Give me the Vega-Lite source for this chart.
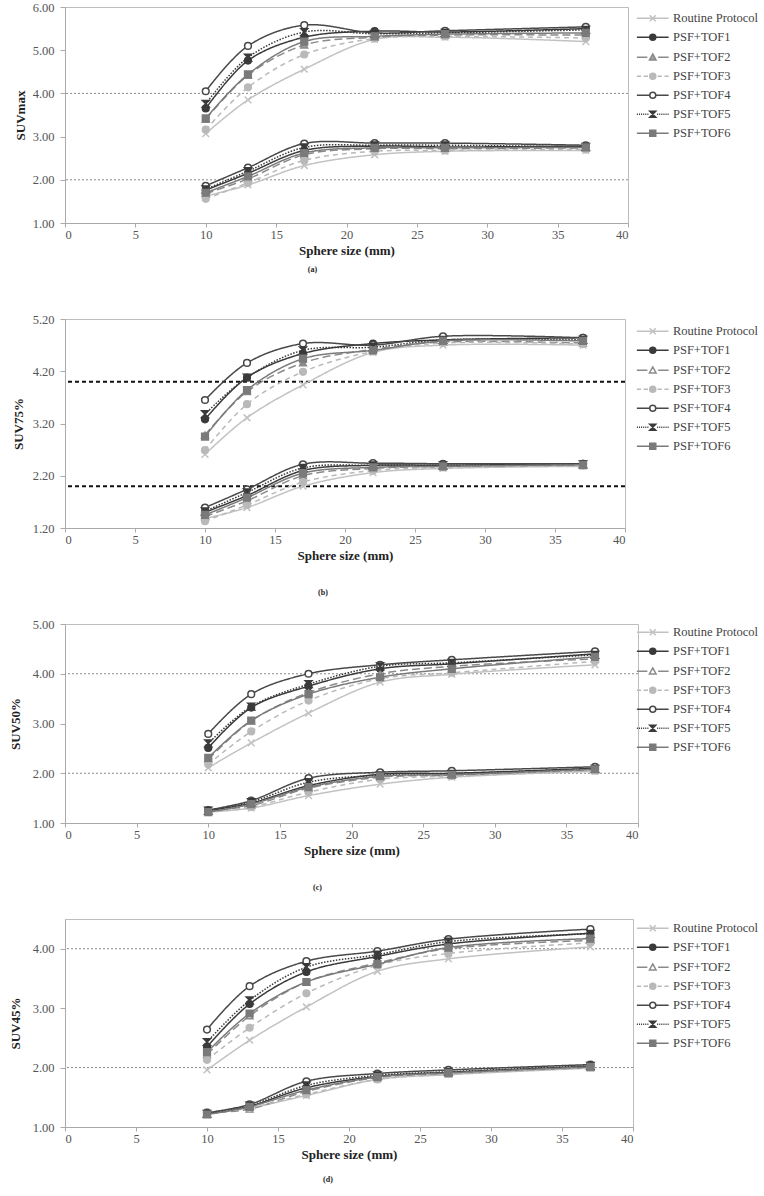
{
"$schema": "https://vega.github.io/schema/vega-lite/v6.json",
"padding": {"left": 9, "top": 0, "right": 0, "bottom": 0},
"background": "white",
"config": {
 "font": "Liberation Serif",
 "view": {"stroke": "#bdbdbd", "strokeWidth": 1},
 "axis": {"grid": false, "labelFont": "Liberation Serif", "labelFontSize": 12.5, "labelColor": "#555", "titleFont": "Liberation Serif", "titleFontSize": 13, "titleFontWeight": "bold", "titleColor": "#222", "domainColor": "#aaa", "tickColor": "#aaa", "tickSize": 5},
 "axisX": {"labelPadding": 1, "titlePadding": 4, "tickSize": 4},
 "axisY": {"labelPadding": 6},
 "legend": {"labelFont": "Liberation Serif", "labelFontSize": 12.5, "labelColor": "#444", "title": null, "orient": "none", "legendX": 581.5, "padding": 0, "symbolSize": 36, "symbolStrokeWidth": 1.5, "labelOffset": 14, "rowPadding": 6},
 "title": {"font": "Liberation Serif"}
},
"resolve": {"scale": {"color": "independent", "strokeDash": "independent", "shape": "independent", "fill": "independent", "stroke": "independent", "size": "independent"}, "legend": {"color": "independent", "shape": "independent", "fill": "independent", "stroke": "independent"}},
"datasets": {
 "a": [
  {"s":"Routine Protocol","g":"h","x":10,"y":3.07},{"s":"Routine Protocol","g":"h","x":13,"y":3.85},{"s":"Routine Protocol","g":"h","x":17,"y":4.56},{"s":"Routine Protocol","g":"h","x":22,"y":5.25},{"s":"Routine Protocol","g":"h","x":27,"y":5.30},{"s":"Routine Protocol","g":"h","x":37,"y":5.20},
  {"s":"Routine Protocol","g":"l","x":10,"y":1.62},{"s":"Routine Protocol","g":"l","x":13,"y":1.88},{"s":"Routine Protocol","g":"l","x":17,"y":2.33},{"s":"Routine Protocol","g":"l","x":22,"y":2.58},{"s":"Routine Protocol","g":"l","x":27,"y":2.66},{"s":"Routine Protocol","g":"l","x":37,"y":2.68},
  {"s":"PSF+TOF1","g":"h","x":10,"y":3.65},{"s":"PSF+TOF1","g":"h","x":13,"y":4.76},{"s":"PSF+TOF1","g":"h","x":17,"y":5.30},{"s":"PSF+TOF1","g":"h","x":22,"y":5.44},{"s":"PSF+TOF1","g":"h","x":27,"y":5.42},{"s":"PSF+TOF1","g":"h","x":37,"y":5.50},
  {"s":"PSF+TOF1","g":"l","x":10,"y":1.76},{"s":"PSF+TOF1","g":"l","x":13,"y":2.15},{"s":"PSF+TOF1","g":"l","x":17,"y":2.68},{"s":"PSF+TOF1","g":"l","x":22,"y":2.78},{"s":"PSF+TOF1","g":"l","x":27,"y":2.76},{"s":"PSF+TOF1","g":"l","x":37,"y":2.78},
  {"s":"PSF+TOF2","g":"h","x":10,"y":3.40},{"s":"PSF+TOF2","g":"h","x":13,"y":4.42},{"s":"PSF+TOF2","g":"h","x":17,"y":5.12},{"s":"PSF+TOF2","g":"h","x":22,"y":5.30},{"s":"PSF+TOF2","g":"h","x":27,"y":5.35},{"s":"PSF+TOF2","g":"h","x":37,"y":5.35},
  {"s":"PSF+TOF2","g":"l","x":10,"y":1.68},{"s":"PSF+TOF2","g":"l","x":13,"y":2.02},{"s":"PSF+TOF2","g":"l","x":17,"y":2.58},{"s":"PSF+TOF2","g":"l","x":22,"y":2.72},{"s":"PSF+TOF2","g":"l","x":27,"y":2.72},{"s":"PSF+TOF2","g":"l","x":37,"y":2.74},
  {"s":"PSF+TOF3","g":"h","x":10,"y":3.16},{"s":"PSF+TOF3","g":"h","x":13,"y":4.14},{"s":"PSF+TOF3","g":"h","x":17,"y":4.90},{"s":"PSF+TOF3","g":"h","x":22,"y":5.27},{"s":"PSF+TOF3","g":"h","x":27,"y":5.32},{"s":"PSF+TOF3","g":"h","x":37,"y":5.28},
  {"s":"PSF+TOF3","g":"l","x":10,"y":1.56},{"s":"PSF+TOF3","g":"l","x":13,"y":1.93},{"s":"PSF+TOF3","g":"l","x":17,"y":2.45},{"s":"PSF+TOF3","g":"l","x":22,"y":2.66},{"s":"PSF+TOF3","g":"l","x":27,"y":2.68},{"s":"PSF+TOF3","g":"l","x":37,"y":2.70},
  {"s":"PSF+TOF4","g":"h","x":10,"y":4.05},{"s":"PSF+TOF4","g":"h","x":13,"y":5.10},{"s":"PSF+TOF4","g":"h","x":17,"y":5.58},{"s":"PSF+TOF4","g":"h","x":22,"y":5.40},{"s":"PSF+TOF4","g":"h","x":27,"y":5.45},{"s":"PSF+TOF4","g":"h","x":37,"y":5.54},
  {"s":"PSF+TOF4","g":"l","x":10,"y":1.86},{"s":"PSF+TOF4","g":"l","x":13,"y":2.28},{"s":"PSF+TOF4","g":"l","x":17,"y":2.84},{"s":"PSF+TOF4","g":"l","x":22,"y":2.85},{"s":"PSF+TOF4","g":"l","x":27,"y":2.85},{"s":"PSF+TOF4","g":"l","x":37,"y":2.80},
  {"s":"PSF+TOF5","g":"h","x":10,"y":3.76},{"s":"PSF+TOF5","g":"h","x":13,"y":4.83},{"s":"PSF+TOF5","g":"h","x":17,"y":5.42},{"s":"PSF+TOF5","g":"h","x":22,"y":5.38},{"s":"PSF+TOF5","g":"h","x":27,"y":5.40},{"s":"PSF+TOF5","g":"h","x":37,"y":5.47},
  {"s":"PSF+TOF5","g":"l","x":10,"y":1.78},{"s":"PSF+TOF5","g":"l","x":13,"y":2.20},{"s":"PSF+TOF5","g":"l","x":17,"y":2.75},{"s":"PSF+TOF5","g":"l","x":22,"y":2.80},{"s":"PSF+TOF5","g":"l","x":27,"y":2.80},{"s":"PSF+TOF5","g":"l","x":37,"y":2.76},
  {"s":"PSF+TOF6","g":"h","x":10,"y":3.42},{"s":"PSF+TOF6","g":"h","x":13,"y":4.44},{"s":"PSF+TOF6","g":"h","x":17,"y":5.20},{"s":"PSF+TOF6","g":"h","x":22,"y":5.32},{"s":"PSF+TOF6","g":"h","x":27,"y":5.37},{"s":"PSF+TOF6","g":"h","x":37,"y":5.40},
  {"s":"PSF+TOF6","g":"l","x":10,"y":1.70},{"s":"PSF+TOF6","g":"l","x":13,"y":2.08},{"s":"PSF+TOF6","g":"l","x":17,"y":2.62},{"s":"PSF+TOF6","g":"l","x":22,"y":2.74},{"s":"PSF+TOF6","g":"l","x":27,"y":2.74},{"s":"PSF+TOF6","g":"l","x":37,"y":2.75}
 ],
 "b": [
  {"s":"Routine Protocol","g":"h","x":10,"y":2.61},{"s":"Routine Protocol","g":"h","x":13,"y":3.31},{"s":"Routine Protocol","g":"h","x":17,"y":3.94},{"s":"Routine Protocol","g":"h","x":22,"y":4.56},{"s":"Routine Protocol","g":"h","x":27,"y":4.70},{"s":"Routine Protocol","g":"h","x":37,"y":4.70},
  {"s":"Routine Protocol","g":"l","x":10,"y":1.38},{"s":"Routine Protocol","g":"l","x":13,"y":1.59},{"s":"Routine Protocol","g":"l","x":17,"y":2.00},{"s":"Routine Protocol","g":"l","x":22,"y":2.26},{"s":"Routine Protocol","g":"l","x":27,"y":2.34},{"s":"Routine Protocol","g":"l","x":37,"y":2.38},
  {"s":"PSF+TOF1","g":"h","x":10,"y":3.28},{"s":"PSF+TOF1","g":"h","x":13,"y":4.08},{"s":"PSF+TOF1","g":"h","x":17,"y":4.54},{"s":"PSF+TOF1","g":"h","x":22,"y":4.73},{"s":"PSF+TOF1","g":"h","x":27,"y":4.80},{"s":"PSF+TOF1","g":"h","x":37,"y":4.84},
  {"s":"PSF+TOF1","g":"l","x":10,"y":1.50},{"s":"PSF+TOF1","g":"l","x":13,"y":1.82},{"s":"PSF+TOF1","g":"l","x":17,"y":2.30},{"s":"PSF+TOF1","g":"l","x":22,"y":2.40},{"s":"PSF+TOF1","g":"l","x":27,"y":2.40},{"s":"PSF+TOF1","g":"l","x":37,"y":2.43},
  {"s":"PSF+TOF2","g":"h","x":10,"y":2.98},{"s":"PSF+TOF2","g":"h","x":13,"y":3.81},{"s":"PSF+TOF2","g":"h","x":17,"y":4.36},{"s":"PSF+TOF2","g":"h","x":22,"y":4.62},{"s":"PSF+TOF2","g":"h","x":27,"y":4.76},{"s":"PSF+TOF2","g":"h","x":37,"y":4.74},
  {"s":"PSF+TOF2","g":"l","x":10,"y":1.42},{"s":"PSF+TOF2","g":"l","x":13,"y":1.72},{"s":"PSF+TOF2","g":"l","x":17,"y":2.20},{"s":"PSF+TOF2","g":"l","x":22,"y":2.34},{"s":"PSF+TOF2","g":"l","x":27,"y":2.38},{"s":"PSF+TOF2","g":"l","x":37,"y":2.40},
  {"s":"PSF+TOF3","g":"h","x":10,"y":2.69},{"s":"PSF+TOF3","g":"h","x":13,"y":3.57},{"s":"PSF+TOF3","g":"h","x":17,"y":4.19},{"s":"PSF+TOF3","g":"h","x":22,"y":4.58},{"s":"PSF+TOF3","g":"h","x":27,"y":4.74},{"s":"PSF+TOF3","g":"h","x":37,"y":4.72},
  {"s":"PSF+TOF3","g":"l","x":10,"y":1.33},{"s":"PSF+TOF3","g":"l","x":13,"y":1.64},{"s":"PSF+TOF3","g":"l","x":17,"y":2.08},{"s":"PSF+TOF3","g":"l","x":22,"y":2.30},{"s":"PSF+TOF3","g":"l","x":27,"y":2.36},{"s":"PSF+TOF3","g":"l","x":37,"y":2.39},
  {"s":"PSF+TOF4","g":"h","x":10,"y":3.65},{"s":"PSF+TOF4","g":"h","x":13,"y":4.36},{"s":"PSF+TOF4","g":"h","x":17,"y":4.73},{"s":"PSF+TOF4","g":"h","x":22,"y":4.70},{"s":"PSF+TOF4","g":"h","x":27,"y":4.87},{"s":"PSF+TOF4","g":"h","x":37,"y":4.84},
  {"s":"PSF+TOF4","g":"l","x":10,"y":1.59},{"s":"PSF+TOF4","g":"l","x":13,"y":1.94},{"s":"PSF+TOF4","g":"l","x":17,"y":2.42},{"s":"PSF+TOF4","g":"l","x":22,"y":2.44},{"s":"PSF+TOF4","g":"l","x":27,"y":2.43},{"s":"PSF+TOF4","g":"l","x":37,"y":2.43},
  {"s":"PSF+TOF5","g":"h","x":10,"y":3.38},{"s":"PSF+TOF5","g":"h","x":13,"y":4.08},{"s":"PSF+TOF5","g":"h","x":17,"y":4.60},{"s":"PSF+TOF5","g":"h","x":22,"y":4.66},{"s":"PSF+TOF5","g":"h","x":27,"y":4.80},{"s":"PSF+TOF5","g":"h","x":37,"y":4.80},
  {"s":"PSF+TOF5","g":"l","x":10,"y":1.52},{"s":"PSF+TOF5","g":"l","x":13,"y":1.88},{"s":"PSF+TOF5","g":"l","x":17,"y":2.35},{"s":"PSF+TOF5","g":"l","x":22,"y":2.40},{"s":"PSF+TOF5","g":"l","x":27,"y":2.40},{"s":"PSF+TOF5","g":"l","x":37,"y":2.42},
  {"s":"PSF+TOF6","g":"h","x":10,"y":2.95},{"s":"PSF+TOF6","g":"h","x":13,"y":3.84},{"s":"PSF+TOF6","g":"h","x":17,"y":4.44},{"s":"PSF+TOF6","g":"h","x":22,"y":4.60},{"s":"PSF+TOF6","g":"h","x":27,"y":4.78},{"s":"PSF+TOF6","g":"h","x":37,"y":4.78},
  {"s":"PSF+TOF6","g":"l","x":10,"y":1.45},{"s":"PSF+TOF6","g":"l","x":13,"y":1.78},{"s":"PSF+TOF6","g":"l","x":17,"y":2.25},{"s":"PSF+TOF6","g":"l","x":22,"y":2.36},{"s":"PSF+TOF6","g":"l","x":27,"y":2.38},{"s":"PSF+TOF6","g":"l","x":37,"y":2.41}
 ],
 "c": [
  {"s":"Routine Protocol","g":"h","x":10,"y":2.11},{"s":"Routine Protocol","g":"h","x":13,"y":2.61},{"s":"Routine Protocol","g":"h","x":17,"y":3.21},{"s":"Routine Protocol","g":"h","x":22,"y":3.83},{"s":"Routine Protocol","g":"h","x":27,"y":3.99},{"s":"Routine Protocol","g":"h","x":37,"y":4.18},
  {"s":"Routine Protocol","g":"l","x":10,"y":1.22},{"s":"Routine Protocol","g":"l","x":13,"y":1.30},{"s":"Routine Protocol","g":"l","x":17,"y":1.55},{"s":"Routine Protocol","g":"l","x":22,"y":1.78},{"s":"Routine Protocol","g":"l","x":27,"y":1.92},{"s":"Routine Protocol","g":"l","x":37,"y":2.04},
  {"s":"PSF+TOF1","g":"h","x":10,"y":2.51},{"s":"PSF+TOF1","g":"h","x":13,"y":3.32},{"s":"PSF+TOF1","g":"h","x":17,"y":3.75},{"s":"PSF+TOF1","g":"h","x":22,"y":4.10},{"s":"PSF+TOF1","g":"h","x":27,"y":4.20},{"s":"PSF+TOF1","g":"h","x":37,"y":4.40},
  {"s":"PSF+TOF1","g":"l","x":10,"y":1.25},{"s":"PSF+TOF1","g":"l","x":13,"y":1.40},{"s":"PSF+TOF1","g":"l","x":17,"y":1.75},{"s":"PSF+TOF1","g":"l","x":22,"y":1.98},{"s":"PSF+TOF1","g":"l","x":27,"y":2.00},{"s":"PSF+TOF1","g":"l","x":37,"y":2.10},
  {"s":"PSF+TOF2","g":"h","x":10,"y":2.28},{"s":"PSF+TOF2","g":"h","x":13,"y":3.05},{"s":"PSF+TOF2","g":"h","x":17,"y":3.62},{"s":"PSF+TOF2","g":"h","x":22,"y":4.00},{"s":"PSF+TOF2","g":"h","x":27,"y":4.15},{"s":"PSF+TOF2","g":"h","x":37,"y":4.30},
  {"s":"PSF+TOF2","g":"l","x":10,"y":1.24},{"s":"PSF+TOF2","g":"l","x":13,"y":1.35},{"s":"PSF+TOF2","g":"l","x":17,"y":1.70},{"s":"PSF+TOF2","g":"l","x":22,"y":1.92},{"s":"PSF+TOF2","g":"l","x":27,"y":1.96},{"s":"PSF+TOF2","g":"l","x":37,"y":2.07},
  {"s":"PSF+TOF3","g":"h","x":10,"y":2.18},{"s":"PSF+TOF3","g":"h","x":13,"y":2.84},{"s":"PSF+TOF3","g":"h","x":17,"y":3.46},{"s":"PSF+TOF3","g":"h","x":22,"y":3.90},{"s":"PSF+TOF3","g":"h","x":27,"y":4.02},{"s":"PSF+TOF3","g":"h","x":37,"y":4.25},
  {"s":"PSF+TOF3","g":"l","x":10,"y":1.22},{"s":"PSF+TOF3","g":"l","x":13,"y":1.32},{"s":"PSF+TOF3","g":"l","x":17,"y":1.62},{"s":"PSF+TOF3","g":"l","x":22,"y":1.88},{"s":"PSF+TOF3","g":"l","x":27,"y":1.94},{"s":"PSF+TOF3","g":"l","x":37,"y":2.05},
  {"s":"PSF+TOF4","g":"h","x":10,"y":2.79},{"s":"PSF+TOF4","g":"h","x":13,"y":3.59},{"s":"PSF+TOF4","g":"h","x":17,"y":4.00},{"s":"PSF+TOF4","g":"h","x":22,"y":4.18},{"s":"PSF+TOF4","g":"h","x":27,"y":4.28},{"s":"PSF+TOF4","g":"h","x":37,"y":4.45},
  {"s":"PSF+TOF4","g":"l","x":10,"y":1.26},{"s":"PSF+TOF4","g":"l","x":13,"y":1.45},{"s":"PSF+TOF4","g":"l","x":17,"y":1.90},{"s":"PSF+TOF4","g":"l","x":22,"y":2.02},{"s":"PSF+TOF4","g":"l","x":27,"y":2.05},{"s":"PSF+TOF4","g":"l","x":37,"y":2.13},
  {"s":"PSF+TOF5","g":"h","x":10,"y":2.60},{"s":"PSF+TOF5","g":"h","x":13,"y":3.34},{"s":"PSF+TOF5","g":"h","x":17,"y":3.79},{"s":"PSF+TOF5","g":"h","x":22,"y":4.15},{"s":"PSF+TOF5","g":"h","x":27,"y":4.22},{"s":"PSF+TOF5","g":"h","x":37,"y":4.38},
  {"s":"PSF+TOF5","g":"l","x":10,"y":1.25},{"s":"PSF+TOF5","g":"l","x":13,"y":1.42},{"s":"PSF+TOF5","g":"l","x":17,"y":1.82},{"s":"PSF+TOF5","g":"l","x":22,"y":1.96},{"s":"PSF+TOF5","g":"l","x":27,"y":1.99},{"s":"PSF+TOF5","g":"l","x":37,"y":2.09},
  {"s":"PSF+TOF6","g":"h","x":10,"y":2.31},{"s":"PSF+TOF6","g":"h","x":13,"y":3.06},{"s":"PSF+TOF6","g":"h","x":17,"y":3.59},{"s":"PSF+TOF6","g":"h","x":22,"y":3.93},{"s":"PSF+TOF6","g":"h","x":27,"y":4.10},{"s":"PSF+TOF6","g":"h","x":37,"y":4.34},
  {"s":"PSF+TOF6","g":"l","x":10,"y":1.22},{"s":"PSF+TOF6","g":"l","x":13,"y":1.38},{"s":"PSF+TOF6","g":"l","x":17,"y":1.72},{"s":"PSF+TOF6","g":"l","x":22,"y":1.94},{"s":"PSF+TOF6","g":"l","x":27,"y":1.97},{"s":"PSF+TOF6","g":"l","x":37,"y":2.08}
 ],
 "d": [
  {"s":"Routine Protocol","g":"h","x":10,"y":1.96},{"s":"Routine Protocol","g":"h","x":13,"y":2.46},{"s":"Routine Protocol","g":"h","x":17,"y":3.02},{"s":"Routine Protocol","g":"h","x":22,"y":3.62},{"s":"Routine Protocol","g":"h","x":27,"y":3.83},{"s":"Routine Protocol","g":"h","x":37,"y":4.03},
  {"s":"Routine Protocol","g":"l","x":10,"y":1.22},{"s":"Routine Protocol","g":"l","x":13,"y":1.32},{"s":"Routine Protocol","g":"l","x":17,"y":1.53},{"s":"Routine Protocol","g":"l","x":22,"y":1.80},{"s":"Routine Protocol","g":"l","x":27,"y":1.88},{"s":"Routine Protocol","g":"l","x":37,"y":1.99},
  {"s":"PSF+TOF1","g":"h","x":10,"y":2.35},{"s":"PSF+TOF1","g":"h","x":13,"y":3.07},{"s":"PSF+TOF1","g":"h","x":17,"y":3.61},{"s":"PSF+TOF1","g":"h","x":22,"y":3.87},{"s":"PSF+TOF1","g":"h","x":27,"y":4.08},{"s":"PSF+TOF1","g":"h","x":37,"y":4.26},
  {"s":"PSF+TOF1","g":"l","x":10,"y":1.22},{"s":"PSF+TOF1","g":"l","x":13,"y":1.35},{"s":"PSF+TOF1","g":"l","x":17,"y":1.66},{"s":"PSF+TOF1","g":"l","x":22,"y":1.85},{"s":"PSF+TOF1","g":"l","x":27,"y":1.92},{"s":"PSF+TOF1","g":"l","x":37,"y":2.02},
  {"s":"PSF+TOF2","g":"h","x":10,"y":2.22},{"s":"PSF+TOF2","g":"h","x":13,"y":2.87},{"s":"PSF+TOF2","g":"h","x":17,"y":3.44},{"s":"PSF+TOF2","g":"h","x":22,"y":3.76},{"s":"PSF+TOF2","g":"h","x":27,"y":4.00},{"s":"PSF+TOF2","g":"h","x":37,"y":4.14},
  {"s":"PSF+TOF2","g":"l","x":10,"y":1.24},{"s":"PSF+TOF2","g":"l","x":13,"y":1.30},{"s":"PSF+TOF2","g":"l","x":17,"y":1.60},{"s":"PSF+TOF2","g":"l","x":22,"y":1.83},{"s":"PSF+TOF2","g":"l","x":27,"y":1.90},{"s":"PSF+TOF2","g":"l","x":37,"y":2.00},
  {"s":"PSF+TOF3","g":"h","x":10,"y":2.13},{"s":"PSF+TOF3","g":"h","x":13,"y":2.67},{"s":"PSF+TOF3","g":"h","x":17,"y":3.25},{"s":"PSF+TOF3","g":"h","x":22,"y":3.72},{"s":"PSF+TOF3","g":"h","x":27,"y":3.92},{"s":"PSF+TOF3","g":"h","x":37,"y":4.10},
  {"s":"PSF+TOF3","g":"l","x":10,"y":1.25},{"s":"PSF+TOF3","g":"l","x":13,"y":1.32},{"s":"PSF+TOF3","g":"l","x":17,"y":1.55},{"s":"PSF+TOF3","g":"l","x":22,"y":1.80},{"s":"PSF+TOF3","g":"l","x":27,"y":1.89},{"s":"PSF+TOF3","g":"l","x":37,"y":2.00},
  {"s":"PSF+TOF4","g":"h","x":10,"y":2.64},{"s":"PSF+TOF4","g":"h","x":13,"y":3.37},{"s":"PSF+TOF4","g":"h","x":17,"y":3.79},{"s":"PSF+TOF4","g":"h","x":22,"y":3.96},{"s":"PSF+TOF4","g":"h","x":27,"y":4.16},{"s":"PSF+TOF4","g":"h","x":37,"y":4.33},
  {"s":"PSF+TOF4","g":"l","x":10,"y":1.24},{"s":"PSF+TOF4","g":"l","x":13,"y":1.38},{"s":"PSF+TOF4","g":"l","x":17,"y":1.77},{"s":"PSF+TOF4","g":"l","x":22,"y":1.90},{"s":"PSF+TOF4","g":"l","x":27,"y":1.96},{"s":"PSF+TOF4","g":"l","x":37,"y":2.05},
  {"s":"PSF+TOF5","g":"h","x":10,"y":2.43},{"s":"PSF+TOF5","g":"h","x":13,"y":3.13},{"s":"PSF+TOF5","g":"h","x":17,"y":3.69},{"s":"PSF+TOF5","g":"h","x":22,"y":3.90},{"s":"PSF+TOF5","g":"h","x":27,"y":4.12},{"s":"PSF+TOF5","g":"h","x":37,"y":4.25},
  {"s":"PSF+TOF5","g":"l","x":10,"y":1.22},{"s":"PSF+TOF5","g":"l","x":13,"y":1.36},{"s":"PSF+TOF5","g":"l","x":17,"y":1.70},{"s":"PSF+TOF5","g":"l","x":22,"y":1.87},{"s":"PSF+TOF5","g":"l","x":27,"y":1.93},{"s":"PSF+TOF5","g":"l","x":37,"y":2.03},
  {"s":"PSF+TOF6","g":"h","x":10,"y":2.26},{"s":"PSF+TOF6","g":"h","x":13,"y":2.91},{"s":"PSF+TOF6","g":"h","x":17,"y":3.44},{"s":"PSF+TOF6","g":"h","x":22,"y":3.74},{"s":"PSF+TOF6","g":"h","x":27,"y":4.02},{"s":"PSF+TOF6","g":"h","x":37,"y":4.17},
  {"s":"PSF+TOF6","g":"l","x":10,"y":1.21},{"s":"PSF+TOF6","g":"l","x":13,"y":1.34},{"s":"PSF+TOF6","g":"l","x":17,"y":1.62},{"s":"PSF+TOF6","g":"l","x":22,"y":1.84},{"s":"PSF+TOF6","g":"l","x":27,"y":1.91},{"s":"PSF+TOF6","g":"l","x":37,"y":2.01}
 ]
},
"bounds": "flush",
"spacing": 96,
"vconcat": [
 {
  "width": 563, "height": 216,
  "title": {"text": "(a)", "orient": "bottom", "anchor": "middle", "frame": "group", "dx": -34, "offset": 8, "fontSize": 8, "fontWeight": "bold", "font": "Liberation Serif", "color": "#222"},
  "resolve": {"scale": {"shape": "independent", "fill": "independent", "stroke": "independent"}, "legend": {"shape": "independent", "fill": "independent", "stroke": "independent"}},
  "layer": [
   {"data": {"values": [{"y": 4}, {"y": 2}]}, "mark": {"type": "rule", "color": "#8a8a8a", "strokeWidth": 1, "strokeDash": [2, 2]},
    "encoding": {"y": {"field": "y", "type": "quantitative", "title": "SUVmax", "scale": {"domain": [1, 6], "nice": false, "zero": false}}}},
   {"data": {"name": "a"}, "mark": {"type": "line", "interpolate": "catmull-rom", "strokeWidth": 1.5},
    "encoding": {
     "x": {"field": "x", "type": "quantitative", "scale": {"domain": [0, 40], "nice": false}, "axis": {"values": [0,5,10,15,20,25,30,35,40], "title": "Sphere size (mm)"}},
     "y": {"field": "y", "type": "quantitative", "scale": {"domain": [1, 6], "nice": false, "zero": false}, "axis": {"values": [1,1.5,2,2.5,3,3.5,4,4.5,5,5.5,6], "format": ".2f", "title": "SUVmax", "titlePadding": 4.5}},
     "detail": {"field": "g"},
     "color": {"field": "s", "type": "nominal", "scale": {"domain": ["Routine Protocol","PSF+TOF1","PSF+TOF2","PSF+TOF3","PSF+TOF4","PSF+TOF5","PSF+TOF6"], "range": ["#c2c2c2","#3a3a3a","#8a8a8a","#b9b9b9","#484848","#3a3a3a","#7a7a7a"]}, "legend": null},
     "strokeDash": {"field": "s", "type": "nominal", "scale": {"domain": ["Routine Protocol","PSF+TOF1","PSF+TOF2","PSF+TOF3","PSF+TOF4","PSF+TOF5","PSF+TOF6"], "range": [[1,0],[1,0],[8,4],[5,4],[1,0],[1.5,1.5],[1,0]]}, "legend": null}
    }},
   {"data": {"name": "a"}, "mark": {"type": "point", "strokeWidth": 1.5, "opacity": 1},
    "encoding": {
     "x": {"field": "x", "type": "quantitative"},
     "y": {"field": "y", "type": "quantitative"},
     "shape": {"field": "s", "type": "nominal", "scale": {"domain": ["Routine Protocol","PSF+TOF1","PSF+TOF2","PSF+TOF3","PSF+TOF4","PSF+TOF5","PSF+TOF6"], "range": ["M-1,-1L1,1M-1,1L1,-1","circle","triangle-up","circle","circle","M-1,-1L1,-1L-1,1L1,1Z","square"]}, "legend": null},
     "fill": {"field": "s", "type": "nominal", "scale": {"domain": ["Routine Protocol","PSF+TOF1","PSF+TOF2","PSF+TOF3","PSF+TOF4","PSF+TOF5","PSF+TOF6"], "range": ["#c2c2c2","#3a3a3a","#a0a0a0","#b9b9b9","#ffffff","#3a3a3a","#7a7a7a"]}, "legend": null},
     "stroke": {"field": "s", "type": "nominal", "scale": {"domain": ["Routine Protocol","PSF+TOF1","PSF+TOF2","PSF+TOF3","PSF+TOF4","PSF+TOF5","PSF+TOF6"], "range": ["#c2c2c2","#3a3a3a","#8a8a8a","#b9b9b9","#484848","#3a3a3a","#7a7a7a"]}, "legend": null},
     "size": {"field": "s", "type": "ordinal", "scale": {"domain": ["Routine Protocol","PSF+TOF1","PSF+TOF2","PSF+TOF3","PSF+TOF4","PSF+TOF5","PSF+TOF6"], "range": [45,45,45,42,80,50,45]}, "legend": null}
    }},
   {"data": {"name": "a"}, "transform": [{"filter": "false"}], "mark": {"type": "point", "strokeWidth": 1.5, "opacity": 1, "filled": false},
    "encoding": {
     "x": {"field": "x", "type": "quantitative"},
     "y": {"field": "y", "type": "quantitative"},
     "shape": {"field": "s", "type": "nominal", "scale": {"domain": ["Routine Protocol","PSF+TOF1","PSF+TOF2","PSF+TOF3","PSF+TOF4","PSF+TOF5","PSF+TOF6"], "range": ["M-5.3,0L5.3,0M-1,-1L1,1M-1,1L1,-1","M-5.3,0L5.3,0M-1,0A1,1,0,1,1,1,0A1,1,0,1,1,-1,0Z","M-5.3,0L-1.8,0M1.8,0L5.3,0M0,-1.1L1.1,0.9L-1.1,0.9Z","M-5.3,0L-3.9,0M-3,0L-1.6,0M1.6,0L3,0M3.9,0L5.3,0M-1,0A1,1,0,1,1,1,0A1,1,0,1,1,-1,0Z","M-5.3,0L-1,0M1,0L5.3,0M-1,0A1,1,0,1,1,1,0A1,1,0,1,1,-1,0Z","M-5.3,0L-4.95,0M-4.6,0L-4.25,0M-3.9,0L-3.55,0M-3.2,0L-2.85,0M-2.5,0L-2.15,0M-1.8,0L-1.45,0M1.45,0L1.8,0M2.15,0L2.5,0M2.85,0L3.2,0M3.55,0L3.9,0M4.25,0L4.6,0M4.95,0L5.3,0M-1,-1L1,-1L-1,1L1,1Z","M-5.3,0L5.3,0M-1,-1L1,-1L1,1L-1,1Z"]}, "legend": {"legendY": 5}},
     "fill": {"field": "s", "type": "nominal", "scale": {"domain": ["Routine Protocol","PSF+TOF1","PSF+TOF2","PSF+TOF3","PSF+TOF4","PSF+TOF5","PSF+TOF6"], "range": ["#c2c2c2","#3a3a3a","#a0a0a0","#b9b9b9","#ffffff","#3a3a3a","#7a7a7a"]}},
     "stroke": {"field": "s", "type": "nominal", "scale": {"domain": ["Routine Protocol","PSF+TOF1","PSF+TOF2","PSF+TOF3","PSF+TOF4","PSF+TOF5","PSF+TOF6"], "range": ["#c2c2c2","#3a3a3a","#8a8a8a","#b9b9b9","#484848","#3a3a3a","#7a7a7a"]}}
    }}
  ]
 },
 {
  "width": 560, "height": 209,
  "title": {"text": "(b)", "orient": "bottom", "anchor": "middle", "frame": "group", "dx": -22, "offset": 26, "fontSize": 8, "fontWeight": "bold", "font": "Liberation Serif", "color": "#222"},
  "resolve": {"scale": {"shape": "independent", "fill": "independent", "stroke": "independent"}, "legend": {"shape": "independent", "fill": "independent", "stroke": "independent"}},
  "layer": [
   {"data": {"values": [{"y": 4}, {"y": 2}]}, "mark": {"type": "rule", "color": "#111111", "strokeWidth": 2, "strokeDash": [4, 3]},
    "encoding": {"y": {"field": "y", "type": "quantitative", "title": "SUV75%", "scale": {"domain": [1.2, 5.2], "nice": false, "zero": false}}}},
   {"data": {"name": "b"}, "mark": {"type": "line", "interpolate": "catmull-rom", "strokeWidth": 1.5},
    "encoding": {
     "x": {"field": "x", "type": "quantitative", "scale": {"domain": [0, 40], "nice": false}, "axis": {"values": [0,5,10,15,20,25,30,35,40], "title": "Sphere size (mm)"}},
     "y": {"field": "y", "type": "quantitative", "scale": {"domain": [1.2, 5.2], "nice": false, "zero": false}, "axis": {"values": [1.2,1.7,2.2,2.7,3.2,3.7,4.2,4.7,5.2], "format": ".2f", "title": "SUV75%", "titlePadding": 6.5}},
     "detail": {"field": "g"},
     "color": {"field": "s", "type": "nominal", "scale": {"domain": ["Routine Protocol","PSF+TOF1","PSF+TOF2","PSF+TOF3","PSF+TOF4","PSF+TOF5","PSF+TOF6"], "range": ["#c2c2c2","#3a3a3a","#8a8a8a","#b9b9b9","#484848","#3a3a3a","#7a7a7a"]}, "legend": null},
     "strokeDash": {"field": "s", "type": "nominal", "scale": {"domain": ["Routine Protocol","PSF+TOF1","PSF+TOF2","PSF+TOF3","PSF+TOF4","PSF+TOF5","PSF+TOF6"], "range": [[1,0],[1,0],[8,4],[5,4],[1,0],[1.5,1.5],[1,0]]}, "legend": null}
    }},
   {"data": {"name": "b"}, "mark": {"type": "point", "strokeWidth": 1.5, "opacity": 1},
    "encoding": {
     "x": {"field": "x", "type": "quantitative"},
     "y": {"field": "y", "type": "quantitative"},
     "shape": {"field": "s", "type": "nominal", "scale": {"domain": ["Routine Protocol","PSF+TOF1","PSF+TOF2","PSF+TOF3","PSF+TOF4","PSF+TOF5","PSF+TOF6"], "range": ["M-1,-1L1,1M-1,1L1,-1","circle","triangle-up","circle","circle","M-1,-1L1,-1L-1,1L1,1Z","square"]}, "legend": null},
     "fill": {"field": "s", "type": "nominal", "scale": {"domain": ["Routine Protocol","PSF+TOF1","PSF+TOF2","PSF+TOF3","PSF+TOF4","PSF+TOF5","PSF+TOF6"], "range": ["#c2c2c2","#3a3a3a","#8a8a8a","#b9b9b9","#ffffff","#3a3a3a","#7a7a7a"]}, "legend": null},
     "stroke": {"field": "s", "type": "nominal", "scale": {"domain": ["Routine Protocol","PSF+TOF1","PSF+TOF2","PSF+TOF3","PSF+TOF4","PSF+TOF5","PSF+TOF6"], "range": ["#c2c2c2","#3a3a3a","#8a8a8a","#b9b9b9","#484848","#3a3a3a","#7a7a7a"]}, "legend": null},
     "size": {"field": "s", "type": "ordinal", "scale": {"domain": ["Routine Protocol","PSF+TOF1","PSF+TOF2","PSF+TOF3","PSF+TOF4","PSF+TOF5","PSF+TOF6"], "range": [45,45,50,42,80,50,45]}, "legend": null}
    }},
   {"data": {"name": "b"}, "transform": [{"filter": "false"}], "mark": {"type": "point", "strokeWidth": 1.5, "opacity": 1, "filled": false},
    "encoding": {
     "x": {"field": "x", "type": "quantitative"},
     "y": {"field": "y", "type": "quantitative"},
     "shape": {"field": "s", "type": "nominal", "scale": {"domain": ["Routine Protocol","PSF+TOF1","PSF+TOF2","PSF+TOF3","PSF+TOF4","PSF+TOF5","PSF+TOF6"], "range": ["M-5.3,0L5.3,0M-1,-1L1,1M-1,1L1,-1","M-5.3,0L5.3,0M-1,0A1,1,0,1,1,1,0A1,1,0,1,1,-1,0Z","M-5.3,0L-1.8,0M1.8,0L5.3,0M0,-1.1L1.1,0.9L-1.1,0.9Z","M-5.3,0L-3.9,0M-3,0L-1.6,0M1.6,0L3,0M3.9,0L5.3,0M-1,0A1,1,0,1,1,1,0A1,1,0,1,1,-1,0Z","M-5.3,0L-1,0M1,0L5.3,0M-1,0A1,1,0,1,1,1,0A1,1,0,1,1,-1,0Z","M-5.3,0L-4.95,0M-4.6,0L-4.25,0M-3.9,0L-3.55,0M-3.2,0L-2.85,0M-2.5,0L-2.15,0M-1.8,0L-1.45,0M1.45,0L1.8,0M2.15,0L2.5,0M2.85,0L3.2,0M3.55,0L3.9,0M4.25,0L4.6,0M4.95,0L5.3,0M-1,-1L1,-1L-1,1L1,1Z","M-5.3,0L5.3,0M-1,-1L1,-1L1,1L-1,1Z"]}, "legend": {"legendY": 6}},
     "fill": {"field": "s", "type": "nominal", "scale": {"domain": ["Routine Protocol","PSF+TOF1","PSF+TOF2","PSF+TOF3","PSF+TOF4","PSF+TOF5","PSF+TOF6"], "range": ["#c2c2c2","#3a3a3a","#ffffff","#b9b9b9","#ffffff","#3a3a3a","#7a7a7a"]}},
     "stroke": {"field": "s", "type": "nominal", "scale": {"domain": ["Routine Protocol","PSF+TOF1","PSF+TOF2","PSF+TOF3","PSF+TOF4","PSF+TOF5","PSF+TOF6"], "range": ["#c2c2c2","#3a3a3a","#8a8a8a","#b9b9b9","#484848","#3a3a3a","#7a7a7a"]}}
    }}
  ]
 },
 {
  "width": 573, "height": 199,
  "title": {"text": "(c)", "orient": "bottom", "anchor": "middle", "frame": "group", "dx": -34, "offset": 26, "fontSize": 8, "fontWeight": "bold", "font": "Liberation Serif", "color": "#222"},
  "resolve": {"scale": {"shape": "independent", "fill": "independent", "stroke": "independent"}, "legend": {"shape": "independent", "fill": "independent", "stroke": "independent"}},
  "layer": [
   {"data": {"values": [{"y": 4}, {"y": 2}]}, "mark": {"type": "rule", "color": "#8a8a8a", "strokeWidth": 1, "strokeDash": [2, 2]},
    "encoding": {"y": {"field": "y", "type": "quantitative", "title": "SUV50%", "scale": {"domain": [1, 5], "nice": false, "zero": false}}}},
   {"data": {"name": "c"}, "mark": {"type": "line", "interpolate": "catmull-rom", "strokeWidth": 1.5},
    "encoding": {
     "x": {"field": "x", "type": "quantitative", "scale": {"domain": [0, 40], "nice": false}, "axis": {"values": [0,5,10,15,20,25,30,35,40], "title": "Sphere size (mm)"}},
     "y": {"field": "y", "type": "quantitative", "scale": {"domain": [1, 5], "nice": false, "zero": false}, "axis": {"values": [1,1.5,2,2.5,3,3.5,4,4.5,5], "format": ".2f", "title": "SUV50%", "titlePadding": 9.5}},
     "detail": {"field": "g"},
     "color": {"field": "s", "type": "nominal", "scale": {"domain": ["Routine Protocol","PSF+TOF1","PSF+TOF2","PSF+TOF3","PSF+TOF4","PSF+TOF5","PSF+TOF6"], "range": ["#c2c2c2","#3a3a3a","#8a8a8a","#b9b9b9","#484848","#3a3a3a","#7a7a7a"]}, "legend": null},
     "strokeDash": {"field": "s", "type": "nominal", "scale": {"domain": ["Routine Protocol","PSF+TOF1","PSF+TOF2","PSF+TOF3","PSF+TOF4","PSF+TOF5","PSF+TOF6"], "range": [[1,0],[1,0],[8,4],[5,4],[1,0],[1.5,1.5],[1,0]]}, "legend": null}
    }},
   {"data": {"name": "c"}, "mark": {"type": "point", "strokeWidth": 1.5, "opacity": 1},
    "encoding": {
     "x": {"field": "x", "type": "quantitative"},
     "y": {"field": "y", "type": "quantitative"},
     "shape": {"field": "s", "type": "nominal", "scale": {"domain": ["Routine Protocol","PSF+TOF1","PSF+TOF2","PSF+TOF3","PSF+TOF4","PSF+TOF5","PSF+TOF6"], "range": ["M-1,-1L1,1M-1,1L1,-1","circle","triangle-up","circle","circle","M-1,-1L1,-1L-1,1L1,1Z","square"]}, "legend": null},
     "fill": {"field": "s", "type": "nominal", "scale": {"domain": ["Routine Protocol","PSF+TOF1","PSF+TOF2","PSF+TOF3","PSF+TOF4","PSF+TOF5","PSF+TOF6"], "range": ["#c2c2c2","#3a3a3a","#ffffff","#b9b9b9","#ffffff","#3a3a3a","#7a7a7a"]}, "legend": null},
     "stroke": {"field": "s", "type": "nominal", "scale": {"domain": ["Routine Protocol","PSF+TOF1","PSF+TOF2","PSF+TOF3","PSF+TOF4","PSF+TOF5","PSF+TOF6"], "range": ["#c2c2c2","#3a3a3a","#8a8a8a","#b9b9b9","#484848","#3a3a3a","#7a7a7a"]}, "legend": null},
     "size": {"field": "s", "type": "ordinal", "scale": {"domain": ["Routine Protocol","PSF+TOF1","PSF+TOF2","PSF+TOF3","PSF+TOF4","PSF+TOF5","PSF+TOF6"], "range": [45,45,45,42,80,50,45]}, "legend": null}
    }},
   {"data": {"name": "c"}, "transform": [{"filter": "false"}], "mark": {"type": "point", "strokeWidth": 1.5, "opacity": 1, "filled": false},
    "encoding": {
     "x": {"field": "x", "type": "quantitative"},
     "y": {"field": "y", "type": "quantitative"},
     "shape": {"field": "s", "type": "nominal", "scale": {"domain": ["Routine Protocol","PSF+TOF1","PSF+TOF2","PSF+TOF3","PSF+TOF4","PSF+TOF5","PSF+TOF6"], "range": ["M-5.3,0L5.3,0M-1,-1L1,1M-1,1L1,-1","M-5.3,0L5.3,0M-1,0A1,1,0,1,1,1,0A1,1,0,1,1,-1,0Z","M-5.3,0L-1.8,0M1.8,0L5.3,0M0,-1.1L1.1,0.9L-1.1,0.9Z","M-5.3,0L-3.9,0M-3,0L-1.6,0M1.6,0L3,0M3.9,0L5.3,0M-1,0A1,1,0,1,1,1,0A1,1,0,1,1,-1,0Z","M-5.3,0L-1,0M1,0L5.3,0M-1,0A1,1,0,1,1,1,0A1,1,0,1,1,-1,0Z","M-5.3,0L-4.95,0M-4.6,0L-4.25,0M-3.9,0L-3.55,0M-3.2,0L-2.85,0M-2.5,0L-2.15,0M-1.8,0L-1.45,0M1.45,0L1.8,0M2.15,0L2.5,0M2.85,0L3.2,0M3.55,0L3.9,0M4.25,0L4.6,0M4.95,0L5.3,0M-1,-1L1,-1L-1,1L1,1Z","M-5.3,0L5.3,0M-1,-1L1,-1L1,1L-1,1Z"]}, "legend": {"legendY": 2}},
     "fill": {"field": "s", "type": "nominal", "scale": {"domain": ["Routine Protocol","PSF+TOF1","PSF+TOF2","PSF+TOF3","PSF+TOF4","PSF+TOF5","PSF+TOF6"], "range": ["#c2c2c2","#3a3a3a","#ffffff","#b9b9b9","#ffffff","#3a3a3a","#7a7a7a"]}},
     "stroke": {"field": "s", "type": "nominal", "scale": {"domain": ["Routine Protocol","PSF+TOF1","PSF+TOF2","PSF+TOF3","PSF+TOF4","PSF+TOF5","PSF+TOF6"], "range": ["#c2c2c2","#3a3a3a","#8a8a8a","#b9b9b9","#484848","#3a3a3a","#7a7a7a"]}}
    }}
  ]
 },
 {
  "width": 568, "height": 208,
  "title": {"text": "(d)", "orient": "bottom", "anchor": "middle", "frame": "group", "dx": -21, "offset": 14, "fontSize": 8, "fontWeight": "bold", "font": "Liberation Serif", "color": "#222"},
  "resolve": {"scale": {"shape": "independent", "fill": "independent", "stroke": "independent"}, "legend": {"shape": "independent", "fill": "independent", "stroke": "independent"}},
  "layer": [
   {"data": {"values": [{"y": 4}, {"y": 2}]}, "mark": {"type": "rule", "color": "#8a8a8a", "strokeWidth": 1, "strokeDash": [2, 2]},
    "encoding": {"y": {"field": "y", "type": "quantitative", "title": "SUV45%", "scale": {"domain": [1, 4.5], "nice": false, "zero": false}}}},
   {"data": {"name": "d"}, "mark": {"type": "line", "interpolate": "catmull-rom", "strokeWidth": 1.5},
    "encoding": {
     "x": {"field": "x", "type": "quantitative", "scale": {"domain": [0, 40], "nice": false}, "axis": {"values": [0,5,10,15,20,25,30,35,40], "title": "Sphere size (mm)"}},
     "y": {"field": "y", "type": "quantitative", "scale": {"domain": [1, 4.5], "nice": false, "zero": false}, "axis": {"values": [1,1.5,2,2.5,3,3.5,4,4.5], "format": ".2f", "title": "SUV45%", "titlePadding": 9.5}},
     "detail": {"field": "g"},
     "color": {"field": "s", "type": "nominal", "scale": {"domain": ["Routine Protocol","PSF+TOF1","PSF+TOF2","PSF+TOF3","PSF+TOF4","PSF+TOF5","PSF+TOF6"], "range": ["#c2c2c2","#3a3a3a","#8a8a8a","#b9b9b9","#484848","#3a3a3a","#7a7a7a"]}, "legend": null},
     "strokeDash": {"field": "s", "type": "nominal", "scale": {"domain": ["Routine Protocol","PSF+TOF1","PSF+TOF2","PSF+TOF3","PSF+TOF4","PSF+TOF5","PSF+TOF6"], "range": [[1,0],[1,0],[8,4],[5,4],[1,0],[1.5,1.5],[1,0]]}, "legend": null}
    }},
   {"data": {"name": "d"}, "mark": {"type": "point", "strokeWidth": 1.5, "opacity": 1},
    "encoding": {
     "x": {"field": "x", "type": "quantitative"},
     "y": {"field": "y", "type": "quantitative"},
     "shape": {"field": "s", "type": "nominal", "scale": {"domain": ["Routine Protocol","PSF+TOF1","PSF+TOF2","PSF+TOF3","PSF+TOF4","PSF+TOF5","PSF+TOF6"], "range": ["M-1,-1L1,1M-1,1L1,-1","circle","triangle-up","circle","circle","M-1,-1L1,-1L-1,1L1,1Z","square"]}, "legend": null},
     "fill": {"field": "s", "type": "nominal", "scale": {"domain": ["Routine Protocol","PSF+TOF1","PSF+TOF2","PSF+TOF3","PSF+TOF4","PSF+TOF5","PSF+TOF6"], "range": ["#c2c2c2","#3a3a3a","#ffffff","#b9b9b9","#ffffff","#3a3a3a","#7a7a7a"]}, "legend": null},
     "stroke": {"field": "s", "type": "nominal", "scale": {"domain": ["Routine Protocol","PSF+TOF1","PSF+TOF2","PSF+TOF3","PSF+TOF4","PSF+TOF5","PSF+TOF6"], "range": ["#c2c2c2","#3a3a3a","#8a8a8a","#b9b9b9","#484848","#3a3a3a","#7a7a7a"]}, "legend": null},
     "size": {"field": "s", "type": "ordinal", "scale": {"domain": ["Routine Protocol","PSF+TOF1","PSF+TOF2","PSF+TOF3","PSF+TOF4","PSF+TOF5","PSF+TOF6"], "range": [45,45,45,42,80,50,45]}, "legend": null}
    }},
   {"data": {"name": "d"}, "transform": [{"filter": "false"}], "mark": {"type": "point", "strokeWidth": 1.5, "opacity": 1, "filled": false},
    "encoding": {
     "x": {"field": "x", "type": "quantitative"},
     "y": {"field": "y", "type": "quantitative"},
     "shape": {"field": "s", "type": "nominal", "scale": {"domain": ["Routine Protocol","PSF+TOF1","PSF+TOF2","PSF+TOF3","PSF+TOF4","PSF+TOF5","PSF+TOF6"], "range": ["M-5.3,0L5.3,0M-1,-1L1,1M-1,1L1,-1","M-5.3,0L5.3,0M-1,0A1,1,0,1,1,1,0A1,1,0,1,1,-1,0Z","M-5.3,0L-1.8,0M1.8,0L5.3,0M0,-1.1L1.1,0.9L-1.1,0.9Z","M-5.3,0L-3.9,0M-3,0L-1.6,0M1.6,0L3,0M3.9,0L5.3,0M-1,0A1,1,0,1,1,1,0A1,1,0,1,1,-1,0Z","M-5.3,0L-1,0M1,0L5.3,0M-1,0A1,1,0,1,1,1,0A1,1,0,1,1,-1,0Z","M-5.3,0L-4.95,0M-4.6,0L-4.25,0M-3.9,0L-3.55,0M-3.2,0L-2.85,0M-2.5,0L-2.15,0M-1.8,0L-1.45,0M1.45,0L1.8,0M2.15,0L2.5,0M2.85,0L3.2,0M3.55,0L3.9,0M4.25,0L4.6,0M4.95,0L5.3,0M-1,-1L1,-1L-1,1L1,1Z","M-5.3,0L5.3,0M-1,-1L1,-1L1,1L-1,1Z"]}, "legend": {"legendY": 3}},
     "fill": {"field": "s", "type": "nominal", "scale": {"domain": ["Routine Protocol","PSF+TOF1","PSF+TOF2","PSF+TOF3","PSF+TOF4","PSF+TOF5","PSF+TOF6"], "range": ["#c2c2c2","#3a3a3a","#ffffff","#b9b9b9","#ffffff","#3a3a3a","#7a7a7a"]}},
     "stroke": {"field": "s", "type": "nominal", "scale": {"domain": ["Routine Protocol","PSF+TOF1","PSF+TOF2","PSF+TOF3","PSF+TOF4","PSF+TOF5","PSF+TOF6"], "range": ["#c2c2c2","#3a3a3a","#8a8a8a","#b9b9b9","#484848","#3a3a3a","#7a7a7a"]}}
    }}
  ]
 }
]
}
